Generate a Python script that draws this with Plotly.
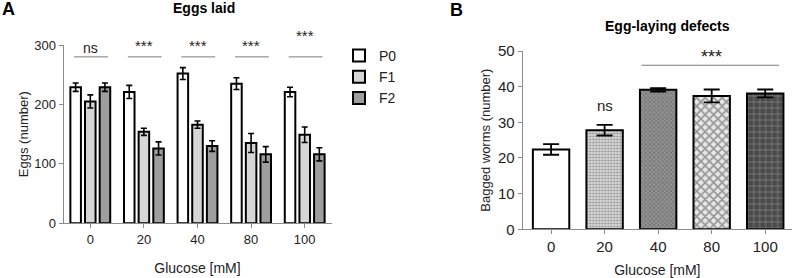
import plotly.graph_objects as go

# ---------------- data ----------------
glucose = ["0", "20", "40", "80", "100"]

p0_eggs = [229, 221, 252, 235, 221]
p0_err = [7, 11, 10, 10, 8]
f1_eggs = [205, 154, 166, 135, 149]
f1_err = [11, 6, 6, 16, 13]
f2_eggs = [229, 126, 130, 116, 116]
f2_err = [7, 11, 9, 13, 11]
eggs_sig = ["ns", "***", "***", "***", "***"]

bagged = [22.4, 27.8, 39.1, 37.4, 38.1]
bagged_err = [1.5, 1.5, 0.5, 1.8, 1.1]

# ---------------- helpers / style ----------------
W, H = 792, 278
FONT = "Liberation Sans, Arial, sans-serif"
AX = "#8c8c8c"
TXT = "#222222"


def px(x):
    return x / W


def py(y):
    return (H - y) / H


def err(vals, w, t=1.6):
    return dict(type="data", array=vals, visible=True, color="black", thickness=t, width=w)


fig = go.Figure()

series = [("P0", p0_eggs, p0_err, "white"),
          ("F1", f1_eggs, f1_err, "#d6d6d6"),
          ("F2", f2_eggs, f2_err, "#9e9e9e")]
for name, vals, e, col in series:
    fig.add_trace(go.Bar(
        x=glucose, y=vals, name=name, error_y=err(e, 3),
        marker=dict(color=col, line=dict(color="black", width=2)),
        xaxis="x", yaxis="y"))

fig.add_trace(go.Bar(
    x=glucose, y=bagged, name="Bagged", showlegend=False, width=0.68,
    error_y=err(bagged_err, 8, 1.8),
    marker=dict(
        color=["white", "#d8d8d8", "#939393", "#e8e8e8", "#4a4a4a"],
        line=dict(color="black", width=2),
        pattern=dict(
            shape=["", ".", "x", "x", "+"],
            fgcolor=["white", "#b6b6b6", "#767676", "#b8b8b8", "#d2d2d2"],
            size=[4, 3, 3, 6, 6],
            solidity=[0.2, 0.35, 0.4, 0.5, 0.15],
            fillmode="overlay")),
    xaxis="x2", yaxis="y2"))

axis_common = dict(showline=True, linecolor=AX, linewidth=1, ticks="outside",
                   ticklen=4, tickcolor=AX, showgrid=False, zeroline=False,
                   automargin=False,
                   tickfont=dict(family=FONT, size=13, color=TXT))

shapes = []
annotations = []
star_px_y = [47.5, 45, 45, 45, 35]  # label heights above the lines (px from top)
for i, s in enumerate(eggs_sig):
    shapes.append(dict(type="line", xref="x", yref="y", x0=i - 0.3, x1=i + 0.33,
                       y0=280, y1=280, line=dict(color="#7a7a7a", width=1)))
    annotations.append(dict(xref="x", yref="paper", x=i, y=py(star_px_y[i]),
                            text=s, showarrow=False, yanchor="middle",
                            font=dict(family=FONT, size=14 if s == "ns" else 15, color=TXT)))

shapes.append(dict(type="line", xref="x2", yref="y2", x0=1.69, x1=4.26, y0=46, y1=46,
                   line=dict(color="#7a7a7a", width=1)))
annotations.append(dict(xref="x2", yref="y2", x=3, y=48.2, text="***", showarrow=False,
                        yanchor="middle", font=dict(family=FONT, size=18, color=TXT)))
annotations.append(dict(xref="x2", yref="y2", x=1, y=34.6, text="ns", showarrow=False,
                        yanchor="middle", font=dict(family=FONT, size=15, color=TXT)))

annotations += [
    dict(xref="paper", yref="paper", x=px(8.5), y=py(8.5), text="<b>A</b>", showarrow=False,
         xanchor="center", yanchor="middle", font=dict(family=FONT, size=18, color="black")),
    dict(xref="paper", yref="paper", x=px(456), y=py(10), text="<b>B</b>", showarrow=False,
         xanchor="center", yanchor="middle", font=dict(family=FONT, size=18, color="black")),
    dict(xref="paper", yref="paper", x=px(204), y=py(8), text="<b>Eggs laid</b>", showarrow=False,
         xanchor="center", yanchor="middle", font=dict(family=FONT, size=14, color="black")),
    dict(xref="paper", yref="paper", x=px(667), y=py(26), text="<b>Egg-laying defects</b>",
         showarrow=False, xanchor="center", yanchor="middle",
         font=dict(family=FONT, size=14, color="black")),
]

fig.update_layout(
    width=W, height=H,
    margin=dict(l=0, r=0, t=0, b=0, autoexpand=False),
    paper_bgcolor="white", plot_bgcolor="white",
    barmode="group", bargap=0.18, bargroupgap=0.28,
    font=dict(family=FONT, color=TXT),
    xaxis=dict(axis_common, domain=[px(63.5), px(331.5)], range=[-0.5, 4.5], type="category",
               anchor="y",
               title=dict(text="Glucose [mM]", standoff=17, font=dict(family=FONT, size=14, color=TXT))),
    yaxis=dict(axis_common, domain=[py(223.3), py(45)], range=[0, 300], tickvals=[0, 100, 200, 300],
               anchor="x",
               title=dict(text="Eggs (number)", standoff=2.5, font=dict(family=FONT, size=13, color=TXT))),
    xaxis2=dict(axis_common, domain=[px(522.7), 1.0], range=[-0.53, 4.5], type="category",
                anchor="y2", tickfont=dict(family=FONT, size=15, color=TXT),
                title=dict(text="Glucose [mM]", standoff=11, font=dict(family=FONT, size=14, color=TXT))),
    yaxis2=dict(axis_common, domain=[py(229.3), py(51)], range=[0, 50], dtick=10,
                anchor="x2", tickfont=dict(family=FONT, size=15, color=TXT),
                title=dict(text="Bagged worms (number)", standoff=4,
                           font=dict(family=FONT, size=13, color=TXT))),
    legend=dict(x=px(339), y=py(40), xanchor="left", yanchor="top",
                font=dict(family=FONT, size=14, color=TXT), bgcolor="rgba(0,0,0,0)",
                traceorder="normal"),
    shapes=shapes,
    annotations=annotations,
)

fig.write_html("out.html", config={"displayModeBar": False},
               post_script="document.body.style.margin='0';document.body.style.overflow='hidden';")
